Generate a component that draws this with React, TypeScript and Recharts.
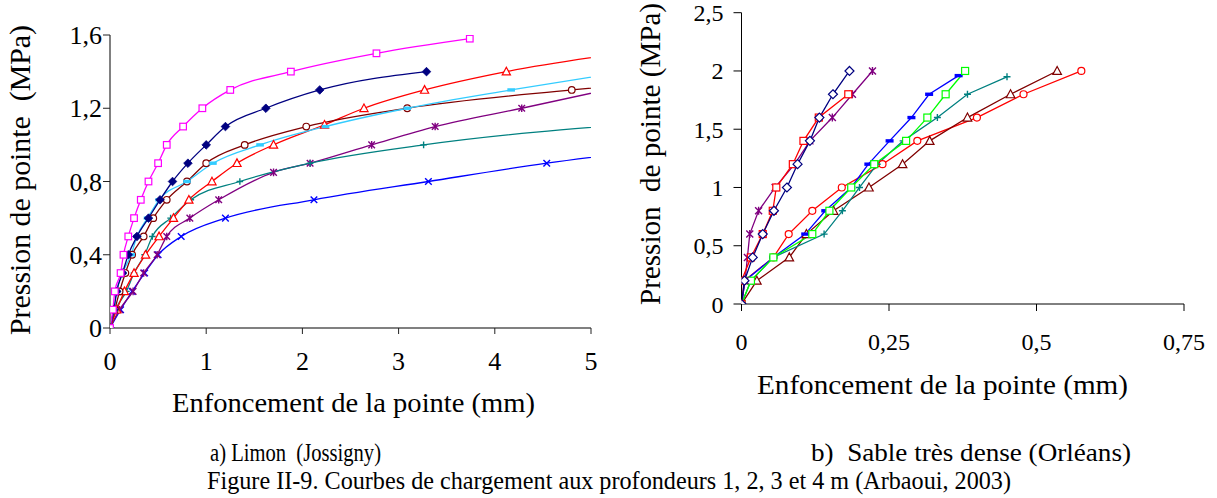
import React from 'react';
import { LineChart, Line, XAxis, YAxis } from 'recharts';

type Pt = [number, number];

// ---- a) Limon (Jossigny) : [enfoncement mm, pression MPa]
const limonMagenta: Pt[] = [[0, 0], [0.03, 0.1], [0.05, 0.2], [0.11, 0.3], [0.14, 0.4], [0.19, 0.5], [0.25, 0.6], [0.32, 0.7], [0.4, 0.8], [0.5, 0.9], [0.59, 1.0], [0.76, 1.1], [0.96, 1.2], [1.25, 1.3], [1.88, 1.4], [2.77, 1.5], [3.74, 1.58]];
const limonNavy: Pt[] = [[0, 0], [0.04, 0.1], [0.07, 0.2], [0.13, 0.3], [0.19, 0.4], [0.28, 0.5], [0.4, 0.6], [0.52, 0.7], [0.65, 0.8], [0.81, 0.9], [1.0, 1.0], [1.2, 1.1], [1.62, 1.2], [2.18, 1.3], [3.29, 1.4]];
const limonCyan: Pt[] = [[0, 0], [0.04, 0.1], [0.07, 0.2], [0.13, 0.3], [0.22, 0.4], [0.28, 0.5], [0.39, 0.6], [0.51, 0.7], [0.8, 0.8], [1.07, 0.9], [1.56, 1.0], [2.24, 1.1], [3.09, 1.2], [4.17, 1.3], [5.6, 1.42]];
const limonBrown: Pt[] = [[0, 0], [0.05, 0.1], [0.1, 0.2], [0.16, 0.3], [0.23, 0.4], [0.35, 0.5], [0.45, 0.6], [0.59, 0.7], [0.8, 0.8], [1.0, 0.9], [1.4, 1.0], [2.04, 1.1], [3.09, 1.2], [4.8, 1.3], [5.6, 1.34]];
const limonRed: Pt[] = [[0, 0], [0.07, 0.1], [0.15, 0.2], [0.25, 0.3], [0.37, 0.4], [0.51, 0.5], [0.66, 0.6], [0.82, 0.7], [1.06, 0.8], [1.32, 0.9], [1.7, 1.0], [2.23, 1.11], [2.64, 1.2], [3.27, 1.3], [4.12, 1.4], [5.6, 1.52]];
const limonTeal: Pt[] = [[0, 0], [0.06, 0.1], [0.17, 0.2], [0.25, 0.3], [0.36, 0.4], [0.44, 0.5], [0.63, 0.6], [0.84, 0.7], [1.35, 0.8], [2.08, 0.9], [3.26, 1.0], [5.6, 1.12]];
const limonPurple: Pt[] = [[0, 0], [0.1, 0.1], [0.24, 0.2], [0.35, 0.3], [0.49, 0.4], [0.59, 0.5], [0.83, 0.6], [1.13, 0.7], [1.7, 0.85], [2.08, 0.9], [2.72, 1.0], [3.38, 1.1], [4.28, 1.2], [5.6, 1.35]];
const limonBlue: Pt[] = [[0, 0], [0.11, 0.1], [0.23, 0.2], [0.36, 0.3], [0.5, 0.4], [0.74, 0.5], [1.2, 0.6], [2.12, 0.7], [3.31, 0.8], [4.54, 0.9], [5.6, 0.97]];

const limonXTicks = [0, 1, 2, 3, 4, 5];
const limonYTicks = [0, 0.4, 0.8, 1.2, 1.6];

// ---- b) Sable très dense (Orléans)
const sableNavy: Pt[] = [[0, 0], [0.005, 0.2], [0.019, 0.4], [0.036, 0.6], [0.055, 0.8], [0.077, 1.0], [0.095, 1.2], [0.116, 1.4], [0.132, 1.6], [0.155, 1.8], [0.183, 2.0]];
const sableRedSquare: Pt[] = [[0, 0], [0, 0.2], [0.016, 0.4], [0.036, 0.6], [0.053, 0.8], [0.059, 1.0], [0.087, 1.2], [0.105, 1.4], [0.131, 1.6], [0.181, 1.8]];
const sablePurple: Pt[] = [[0, 0], [0.006, 0.2], [0.01, 0.4], [0.014, 0.6], [0.029, 0.8], [0.057, 1.0], [0.09, 1.2], [0.116, 1.4], [0.154, 1.6], [0.188, 1.8], [0.222, 2.0]];
const sableBlue: Pt[] = [[0, 0], [0.006, 0.2], [0.054, 0.4], [0.108, 0.6], [0.142, 0.8], [0.186, 1.0], [0.215, 1.2], [0.251, 1.4], [0.288, 1.6], [0.318, 1.8], [0.368, 1.96]];
const sableGreen: Pt[] = [[0, 0], [0.016, 0.2], [0.054, 0.4], [0.12, 0.6], [0.149, 0.8], [0.186, 1.0], [0.225, 1.2], [0.279, 1.4], [0.315, 1.6], [0.346, 1.8], [0.379, 2.0]];
const sableTeal: Pt[] = [[0, 0], [0.016, 0.2], [0.054, 0.4], [0.14, 0.6], [0.171, 0.8], [0.2, 1.0], [0.23, 1.2], [0.274, 1.4], [0.332, 1.6], [0.383, 1.8], [0.45, 1.95]];
const sableBrown: Pt[] = [[0, 0], [0.026, 0.2], [0.081, 0.4], [0.11, 0.6], [0.156, 0.8], [0.216, 1.0], [0.273, 1.2], [0.319, 1.4], [0.383, 1.6], [0.456, 1.8], [0.535, 2.0]];
const sableRedCircle: Pt[] = [[0, 0], [0.005, 0.2], [0.054, 0.4], [0.08, 0.6], [0.12, 0.8], [0.17, 1.0], [0.239, 1.2], [0.298, 1.4], [0.399, 1.6], [0.478, 1.8], [0.576, 2.0]];

const sableXTicks = [0, 0.25, 0.5, 0.75];
const sableYTicks = [0, 0.5, 1, 1.5, 2, 2.5];

const xTitle = 'Enfoncement de la pointe (mm)';
const yTitleA = 'Pression de pointe  (MPa)';
const yTitleB = 'Pression  de pointe (MPa)';
const captionA = 'a) Limon  (Jossigny)';
const captionB = 'b)  Sable très dense (Orléans)';
const figureCaption = 'Figure II-9. Courbes de chargement aux profondeurs 1, 2, 3 et 4 m (Arbaoui, 2003)';

const SERIF = '"Liberation Serif", "Times New Roman", serif';

type Shape = 'square' | 'diamondFilled' | 'diamond' | 'dash' | 'circle' | 'triangle' | 'plus' | 'x' | 'star';

interface SeriesDef { name: string; data: Pt[]; color: string; shape: Shape }

const limonSeries: SeriesDef[] = [
  { name: 'blue', data: limonBlue, color: '#0000FF', shape: 'x' },
  { name: 'purple', data: limonPurple, color: '#800080', shape: 'star' },
  { name: 'teal', data: limonTeal, color: '#008080', shape: 'plus' },
  { name: 'red', data: limonRed, color: '#FF0000', shape: 'triangle' },
  { name: 'brown', data: limonBrown, color: '#800000', shape: 'circle' },
  { name: 'cyan', data: limonCyan, color: '#33CCFF', shape: 'dash' },
  { name: 'navy', data: limonNavy, color: '#000080', shape: 'diamondFilled' },
  { name: 'magenta', data: limonMagenta, color: '#FF00FF', shape: 'square' },
];

const sableSeries: SeriesDef[] = [
  { name: 'redc', data: sableRedCircle, color: '#FF0000', shape: 'circle' },
  { name: 'brown', data: sableBrown, color: '#800000', shape: 'triangle' },
  { name: 'teal', data: sableTeal, color: '#008080', shape: 'plus' },
  { name: 'blue', data: sableBlue, color: '#0000FF', shape: 'dash' },
  { name: 'green', data: sableGreen, color: '#00FF00', shape: 'square' },
  { name: 'purple', data: sablePurple, color: '#800080', shape: 'star' },
  { name: 'reds', data: sableRedSquare, color: '#FF0000', shape: 'square' },
  { name: 'navy', data: sableNavy, color: '#000080', shape: 'diamond' },
];

const toRows = (pts: Pt[]) => pts.map(([x, y]) => ({ x, y }));
const fmt = (v: number) => String(v).replace('.', ',');

function Marker({ cx, cy, shape, color, r }: { cx?: number; cy?: number; shape: Shape; color: string; r: number }) {
  if (cx == null || cy == null || isNaN(cx) || isNaN(cy)) return null;
  const sw = 1.2;
  switch (shape) {
    case 'square':
      return <rect x={cx - r} y={cy - r} width={2 * r} height={2 * r} fill="#fff" stroke={color} strokeWidth={sw} />;
    case 'diamondFilled':
      return <polygon points={`${cx},${cy - r - 1} ${cx + r + 1},${cy} ${cx},${cy + r + 1} ${cx - r - 1},${cy}`} fill={color} stroke={color} strokeWidth={0.8} />;
    case 'diamond':
      return <polygon points={`${cx},${cy - r - 1} ${cx + r + 1},${cy} ${cx},${cy + r + 1} ${cx - r - 1},${cy}`} fill="#fff" stroke={color} strokeWidth={sw} />;
    case 'dash':
      return <rect x={cx - r - 0.5} y={cy - 1.7} width={2 * r + 1} height={3.4} fill={color} />;
    case 'circle':
      return <circle cx={cx} cy={cy} r={r} fill="#fff" stroke={color} strokeWidth={sw} />;
    case 'triangle':
      return <polygon points={`${cx},${cy - r - 1} ${cx + r + 0.8},${cy + r} ${cx - r - 0.8},${cy + r}`} fill="#fff" stroke={color} strokeWidth={sw} />;
    case 'plus':
      return <path d={`M${cx - r},${cy}H${cx + r}M${cx},${cy - r}V${cy + r}`} stroke={color} strokeWidth={1.4} fill="none" />;
    case 'x':
      return <path d={`M${cx - r},${cy - r}L${cx + r},${cy + r}M${cx - r},${cy + r}L${cx + r},${cy - r}`} stroke={color} strokeWidth={1.4} fill="none" />;
    case 'star':
      return <path d={`M${cx - r},${cy - r}L${cx + r},${cy + r}M${cx - r},${cy + r}L${cx + r},${cy - r}M${cx},${cy - r - 0.5}V${cy + r + 0.5}`} stroke={color} strokeWidth={1.4} fill="none" />;
  }
  return null;
}

const tickStyleA = { fill: '#000', fontSize: 26, fontFamily: SERIF };
const tickStyleB = { fill: '#000', fontSize: 24, fontFamily: SERIF };

function LimonChart() {
  return (
    <LineChart width={620} height={380} margin={{ top: 35, right: 29, bottom: 22, left: 50 }}>
      <XAxis dataKey="x" type="number" domain={[0, 5]} ticks={limonXTicks} allowDataOverflow interval={0}
        height={30} tickSize={6} tickMargin={18} tickFormatter={fmt} tick={tickStyleA}
        axisLine={{ stroke: '#808080', strokeWidth: 2 }} tickLine={{ stroke: '#222' }} />
      <YAxis dataKey="y" type="number" domain={[0, 1.6]} ticks={limonYTicks} allowDataOverflow interval={0}
        width={60} tickSize={7} tickMargin={1} tickFormatter={fmt} tick={tickStyleA}
        axisLine={{ stroke: '#808080', strokeWidth: 2 }} tickLine={{ stroke: '#222' }} />
      {limonSeries.map((s) => (
        <Line key={s.name} data={toRows(s.data)} dataKey="y" type="monotone" stroke={s.color} strokeWidth={1.3}
          isAnimationActive={false} activeDot={false}
          dot={(p: any) => <Marker key={`${s.name}-${p.index}`} cx={p.cx} cy={p.cy} shape={s.shape} color={s.color} r={3.3} />} />
      ))}
    </LineChart>
  );
}

function SableChart() {
  return (
    <LineChart width={597} height={380} margin={{ top: 12.7, right: 33, bottom: 46, left: 61.5 }}>
      <XAxis dataKey="x" type="number" domain={[0, 0.75]} ticks={sableXTicks} allowDataOverflow interval={0}
        height={30} tickSize={7} tickMargin={22} tickFormatter={fmt} tick={tickStyleB}
        axisLine={{ stroke: '#000', strokeWidth: 1 }} tickLine={{ stroke: '#000' }} />
      <YAxis dataKey="y" type="number" domain={[0, 2.5]} ticks={sableYTicks} allowDataOverflow interval={0}
        width={60} tickSize={8} tickMargin={10} tickFormatter={fmt} tick={tickStyleB}
        axisLine={{ stroke: '#000', strokeWidth: 1 }} tickLine={{ stroke: '#000' }} />
      {sableSeries.map((s) => (
        <Line key={s.name} data={toRows(s.data)} dataKey="y" type="linear" stroke={s.color} strokeWidth={1.3}
          isAnimationActive={false} activeDot={false}
          dot={(p: any) => <Marker key={`${s.name}-${p.index}`} cx={p.cx} cy={p.cy} shape={s.shape} color={s.color} r={3.5} />} />
      ))}
    </LineChart>
  );
}

export default function App() {
  return (
    <div style={{ position: 'absolute', left: 0, top: 0, width: 1217, height: 498, background: '#fff', overflow: 'hidden' }}>
      <div style={{ position: 'absolute', left: 0, top: 0 }}><LimonChart /></div>
      <div style={{ position: 'absolute', left: 620, top: 0 }}><SableChart /></div>
      <svg width={1217} height={498} style={{ position: 'absolute', left: 0, top: 0, pointerEvents: 'none' }}
        fontFamily={SERIF} fill="#000">
        <text x={353.5} y={411.5} fontSize={28} textAnchor="middle" textLength={363} lengthAdjust="spacingAndGlyphs">{xTitle}</text>
        <text x={942.5} y={394} fontSize={28} textAnchor="middle" textLength={371} lengthAdjust="spacingAndGlyphs">{xTitle}</text>
        <text transform="translate(30,180) rotate(-90)" fontSize={29} textAnchor="middle" textLength={310}
          lengthAdjust="spacingAndGlyphs" style={{ whiteSpace: 'pre' }}>{yTitleA}</text>
        <text transform="translate(660,154) rotate(-90)" fontSize={29} textAnchor="middle" textLength={302}
          lengthAdjust="spacingAndGlyphs" style={{ whiteSpace: 'pre' }}>{yTitleB}</text>
        <text x={210} y={461} fontSize={25} textLength={171} lengthAdjust="spacingAndGlyphs" style={{ whiteSpace: 'pre' }}>{captionA}</text>
        <text x={811} y={461} fontSize={25} textLength={320} lengthAdjust="spacingAndGlyphs" style={{ whiteSpace: 'pre' }}>{captionB}</text>
        <text x={207} y={489} fontSize={25} textLength={804} lengthAdjust="spacingAndGlyphs">{figureCaption}</text>
      </svg>
    </div>
  );
}
